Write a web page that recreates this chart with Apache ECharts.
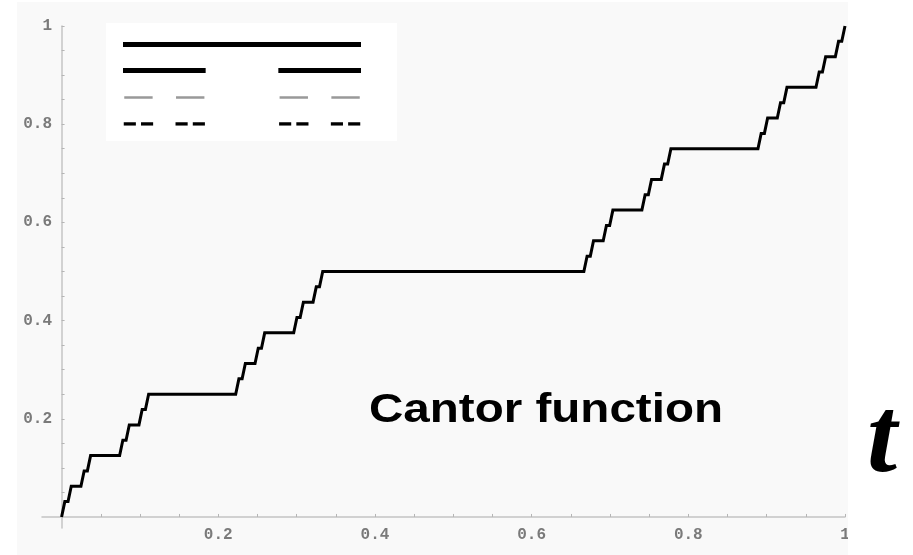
<!DOCTYPE html>
<html>
<head>
<meta charset="utf-8">
<script src="https://cdn.jsdelivr.net/npm/echarts@6/dist/echarts.min.js"></script>
<style>
html,body{margin:0;padding:0;background:#ffffff;}
#chart{width:913px;height:555px;}
</style>
</head>
<body>
<div id="chart"></div>
<script>
// Cantor function staircase (t, value)
const curveX = [0,0.004115, 0.00823,0.012346, 0.024691,0.028807, 0.032922,0.037037,
  0.074074,0.078189, 0.082305,0.08642, 0.098765,0.102881, 0.106996,0.111111,
  0.222222,0.226337, 0.230453,0.234568, 0.246914,0.251029, 0.255144,0.259259,
  0.296296,0.300412, 0.304527,0.308642, 0.320988,0.325103, 0.329218,0.333333,
  0.666667,0.670782, 0.674897,0.679012, 0.691358,0.695473, 0.699588,0.703704,
  0.740741,0.744856, 0.748971,0.753086, 0.765432,0.769547, 0.773663,0.777778,
  0.888889,0.893004, 0.897119,0.901235, 0.91358,0.917695, 0.921811,0.925926,
  0.962963,0.967078, 0.971193,0.975309, 0.987654,0.99177, 0.995885,1];
const curveY = [0,0.03125, 0.03125,0.0625, 0.0625,0.09375, 0.09375,0.125,
  0.125,0.15625, 0.15625,0.1875, 0.1875,0.21875, 0.21875,0.25,
  0.25,0.28125, 0.28125,0.3125, 0.3125,0.34375, 0.34375,0.375,
  0.375,0.40625, 0.40625,0.4375, 0.4375,0.46875, 0.46875,0.5,
  0.5,0.53125, 0.53125,0.5625, 0.5625,0.59375, 0.59375,0.625,
  0.625,0.65625, 0.65625,0.6875, 0.6875,0.71875, 0.71875,0.75,
  0.75,0.78125, 0.78125,0.8125, 0.8125,0.84375, 0.84375,0.875,
  0.875,0.90625, 0.90625,0.9375, 0.9375,0.96875, 0.96875,1];

// Cantor set construction (inset), intervals per level
const cantorLevel0 = [[0,1]];
const cantorLevel1 = [[0,0.3333],[0.6667,1]];
const cantorLevel2 = [[0,0.1111],[0.2222,0.3333],[0.6667,0.7778],[0.8889,1]];
const cantorLevel3 = [[0,0.037],[0.0741,0.1111],[0.2222,0.2593],[0.2963,0.3333],
  [0.6667,0.7037],[0.7407,0.7778],[0.8889,0.9259],[0.963,1]];

// Axis ticks and labels
const xTickLabels = [0.2,0.4,0.6,0.8,1];
const yTickLabels = [0.2,0.4,0.6,0.8,1];
const tickMarks = [0.05,0.1,0.15,0.2,0.25,0.3,0.35,0.4,0.45,0.5,0.55,0.6,0.65,0.7,0.75,0.8,0.85,0.9,0.95,1];

const curveData = curveX.map((x,i)=>[x, curveY[i]]);
function rowLines(intervals, row){
  return intervals.map(iv => ({coords: [[iv[0], row],[iv[1], row]]}));
}

const chart = echarts.init(document.getElementById('chart'), null, {renderer:'canvas'});
const labelStyle = {color:'#7a7a7a', fontFamily:'"Liberation Mono", "DejaVu Sans Mono", monospace', fontSize:16, fontWeight:'bold'};
const axisCommon = {
  axisLine:{show:true, onZero:true, lineStyle:{color:'#c4c4c4', width:1.5}},
  axisTick:{show:true, inside:true, length:3, customValues: tickMarks, lineStyle:{color:'#b5b5b5', width:1}},
  splitLine:{show:false}
};
chart.setOption({
  animation:false,
  backgroundColor:'#ffffff',
  grid:[
    {left:42, right:68, top:26, bottom:27},
    {left:125.5, width:233, top:44, height:80}
  ],
  xAxis:[
    Object.assign({type:'value', gridIndex:0, min:-0.025, max:1,
      axisLabel:Object.assign({customValues:xTickLabels, margin:-1, formatter:v=>String(v)}, labelStyle)}, axisCommon),
    {type:'value', gridIndex:1, min:0, max:1, show:false}
  ],
  yAxis:[
    Object.assign({type:'value', gridIndex:0, min:-0.0225, max:1,
      axisLabel:Object.assign({customValues:yTickLabels, margin:-10, formatter:v=>String(v)}, labelStyle)}, axisCommon),
    {type:'value', gridIndex:1, min:0, max:3, inverse:true, show:false}
  ],
  graphic:[
    {type:'rect', z:-10, shape:{x:17, y:2, width:831, height:553}, style:{fill:'#f9f9f9'}},
    {type:'rect', z:1, shape:{x:106, y:23, width:291, height:118}, style:{fill:'#ffffff'}},
    {type:'rect', z:50, shape:{x:848, y:0, width:65, height:555}, style:{fill:'#ffffff'}},
    {type:'text', z:60, x:369, y:411, scaleX:1.16, style:{text:'Cantor function', fill:'#000',
      font:'bold 41px "Liberation Sans", Arial, sans-serif', textAlign:'left', textVerticalAlign:'middle', verticalAlign:'middle'}},
    {type:'text', z:60, x:882, y:443, style:{text:'t', fill:'#000',
      font:'italic bold 108px "Liberation Serif", "Times New Roman", serif', textAlign:'center', textVerticalAlign:'middle', verticalAlign:'middle'}}
  ],
  series:[
    {type:'line', xAxisIndex:0, yAxisIndex:0, data:curveData, showSymbol:false, z:5,
      lineStyle:{color:'#000', width:3, join:'miter'}},
    {type:'lines', coordinateSystem:'cartesian2d', xAxisIndex:1, yAxisIndex:1, z:5,
      data:rowLines(cantorLevel0,0), lineStyle:{color:'#000', width:5, cap:'square', opacity:1}},
    {type:'lines', coordinateSystem:'cartesian2d', xAxisIndex:1, yAxisIndex:1, z:5,
      data:rowLines(cantorLevel1,1), lineStyle:{color:'#000', width:5, cap:'square', opacity:1}},
    {type:'lines', coordinateSystem:'cartesian2d', xAxisIndex:1, yAxisIndex:1, z:5,
      data:rowLines(cantorLevel2,2), lineStyle:{color:'#999', width:2.5, cap:'square', opacity:1}},
    {type:'lines', coordinateSystem:'cartesian2d', xAxisIndex:1, yAxisIndex:1, z:5,
      data:rowLines(cantorLevel3,3), lineStyle:{color:'#000', width:3.5, cap:'square', opacity:1}}
  ]
});
</script>
</body>
</html>
